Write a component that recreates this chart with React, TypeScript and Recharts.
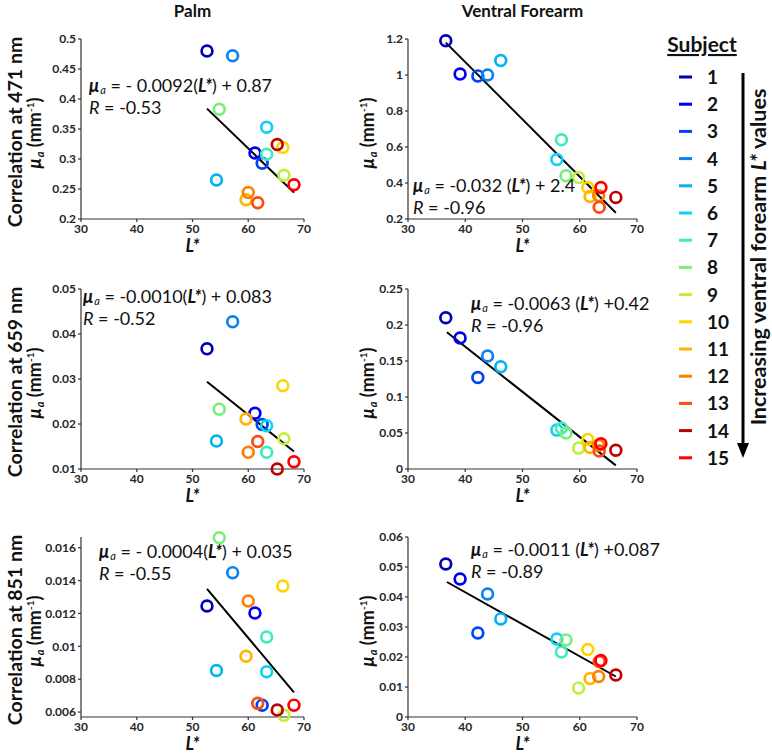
import React from "react";
import { ScatterChart, Scatter, XAxis, YAxis, ReferenceLine } from "recharts";

const FONT = "Lato, 'Open Sans', sans-serif";

// subject 1..15, ordered by increasing ventral forearm L*
const subjects = [1, 2, 3, 4, 5, 6, 7, 8, 9, 10, 11, 12, 13, 14, 15];
const subjectColors = [
  "#0000B4", "#0000F0", "#0044FA", "#0A82F0", "#00B4F0",
  "#10D0F8", "#40EBBE", "#78F078", "#BEF03C", "#FFD400",
  "#FFB400", "#FF8000", "#FF4A10", "#C00000", "#FF0000",
];

const palmL = [52.6, 61.2, 62.5, 57.2, 54.3, 63.3, 63.3, 54.8, 66.4, 66.2, 59.6, 60.0, 61.7, 65.2, 68.2];
const ventralL = [36.6, 39.1, 42.2, 43.9, 46.2, 56.0, 56.8, 57.6, 59.8, 61.4, 61.8, 63.3, 63.4, 66.3, 63.7];

const palm471 = [0.48, 0.31, 0.293, 0.472, 0.265, 0.353, 0.308, 0.383, 0.273, 0.319, 0.232, 0.244, 0.227, 0.324, 0.257];
const ventral471 = [1.19, 1.005, 0.995, 1.0, 1.08, 0.53, 0.64, 0.44, 0.43, 0.375, 0.325, 0.33, 0.265, 0.32, 0.375];
const palm659 = [0.0367, 0.0224, 0.0199, 0.0427, 0.0162, 0.0196, 0.0137, 0.0233, 0.0167, 0.0285, 0.0211, 0.0137, 0.0161, 0.01, 0.0116];
const ventral659 = [0.21, 0.182, 0.127, 0.157, 0.142, 0.054, 0.057, 0.05, 0.029, 0.041, 0.03, 0.033, 0.025, 0.026, 0.035];
const palm851 = [0.01245, 0.01203, 0.00642, 0.01448, 0.00853, 0.00845, 0.01057, 0.0166, 0.0058, 0.01367, 0.0094, 0.01276, 0.00653, 0.00612, 0.00642];
const ventral851 = [0.051, 0.046, 0.028, 0.041, 0.0327, 0.026, 0.0217, 0.0257, 0.0097, 0.0225, 0.0128, 0.0135, 0.0185, 0.014, 0.0188];

// regression line end points
const palm471Fit = [{ x: 52.6, y: 0.384 }, { x: 68.2, y: 0.244 }];
const ventral471Fit = [{ x: 36.6, y: 1.18 }, { x: 66.3, y: 0.235 }];
const palm659Fit = [{ x: 52.6, y: 0.0294 }, { x: 68.2, y: 0.0139 }];
const ventral659Fit = [{ x: 36.8, y: 0.19 }, { x: 66.3, y: 0.005 }];
const palm851Fit = [{ x: 52.6, y: 0.0135 }, { x: 68.2, y: 0.0072 }];
const ventral851Fit = [{ x: 36.8, y: 0.045 }, { x: 66.3, y: 0.0135 }];

const xTicks = [30, 40, 50, 60, 70];
const palm471Ticks = [0.2, 0.25, 0.3, 0.35, 0.4, 0.45, 0.5];
const ventral471Ticks = [0.2, 0.4, 0.6, 0.8, 1, 1.2];
const palm659Ticks = [0.01, 0.02, 0.03, 0.04, 0.05];
const ventral659Ticks = [0, 0.05, 0.1, 0.15, 0.2, 0.25];
const palm851Ticks = [0.006, 0.008, 0.01, 0.012, 0.014, 0.016];
const ventral851Ticks = [0, 0.01, 0.02, 0.03, 0.04, 0.05, 0.06];

const toPoints = (xs: number[], ys: number[]) =>
  xs.map((x, i) => ({ x, y: ys[i], s: subjects[i] }));

const Ring = (props: any) => (
  <circle
    cx={props.cx}
    cy={props.cy}
    r={5.4}
    fill="none"
    stroke={subjectColors[props.payload.s - 1]}
    strokeWidth={2.7}
  />
);

const tickStyle = { fontSize: 12, fontWeight: 700, fill: "#262626", fontFamily: FONT };
const axisStyle = { stroke: "#333", strokeWidth: 1.2 };

interface PanelProps {
  left: number;
  top: number;
  plotW: number;
  data: { x: number; y: number; s: number }[];
  fit: { x: number; y: number }[];
  yDomain: [number, number];
  yTicks: number[];
}

function Panel({ left, top, plotW, data, fit, yDomain, yTicks }: PanelProps) {
  return (
    <div style={{ position: "absolute", left: left - 60, top: top - 10 }}>
      <ScatterChart width={plotW + 70} height={220} margin={{ top: 10, right: 10, bottom: 0, left: 0 }}>
        <XAxis
          type="number"
          dataKey="x"
          domain={[30, 70]}
          ticks={xTicks}
          interval={0}
          height={30}
          tick={tickStyle}
          tickSize={3}
          axisLine={axisStyle}
          tickLine={axisStyle}
        />
        <YAxis
          type="number"
          dataKey="y"
          domain={yDomain}
          ticks={yTicks}
          interval={0}
          width={60}
          tick={tickStyle}
          tickSize={3}
          axisLine={axisStyle}
          tickLine={axisStyle}
        />
        <Scatter data={data} shape={Ring} isAnimationActive={false} />
        <ReferenceLine segment={fit} stroke="#000" strokeWidth={2} ifOverflow="visible" />
      </ScatterChart>
    </div>
  );
}

const PALM_X = 81;
const PALM_W = 223;
const VENT_X = 408;
const VENT_W = 229;
const ROWS = [39, 289, 537];

function Equation({ x, y, slope, intercept, r }: { x: number; y: number; slope: string; intercept: string; r: string }) {
  return (
    <g fontSize={18} fill="#111">
      <text x={x} y={y}>
        <tspan fontWeight={700} fontStyle="italic">μ</tspan>
        <tspan fontStyle="italic" fontSize={11} dx={1} dy={2}>a</tspan>
        <tspan dy={-2}>{` = ${slope}(`}</tspan>
        <tspan fontWeight={700} fontStyle="italic">L*</tspan>
        <tspan>{`) ${intercept}`}</tspan>
      </text>
      <text x={x} y={y + 22}>
        <tspan fontStyle="italic">R</tspan>
        <tspan>{` = ${r}`}</tspan>
      </text>
    </g>
  );
}

function MuLabel({ x, y }: { x: number; y: number }) {
  return (
    <text
      transform={`translate(${x},${y}) rotate(-90)`}
      textAnchor="middle"
      fontWeight={700}
      fontSize={18}
      fill="#111"
    >
      <tspan fontStyle="italic">μ</tspan>
      <tspan fontStyle="italic" fontSize={11} dx={1} dy={3}>a</tspan>
      <tspan dy={-3}> (mm</tspan>
      <tspan fontSize={10} dy={-7}>-1</tspan>
      <tspan dy={7}>)</tspan>
    </text>
  );
}

export default function App() {
  const wavelengths = ["471", "659", "851"];
  return (
    <div
      style={{
        position: "absolute",
        left: 0,
        top: 0,
        width: 772,
        height: 755,
        background: "#fff",
        fontFamily: FONT,
      }}
    >
      <Panel left={PALM_X} top={ROWS[0]} plotW={PALM_W} data={toPoints(palmL, palm471)} fit={palm471Fit} yDomain={[0.2, 0.5]} yTicks={palm471Ticks} />
      <Panel left={VENT_X} top={ROWS[0]} plotW={VENT_W} data={toPoints(ventralL, ventral471)} fit={ventral471Fit} yDomain={[0.2, 1.2]} yTicks={ventral471Ticks} />
      <Panel left={PALM_X} top={ROWS[1]} plotW={PALM_W} data={toPoints(palmL, palm659)} fit={palm659Fit} yDomain={[0.01, 0.05]} yTicks={palm659Ticks} />
      <Panel left={VENT_X} top={ROWS[1]} plotW={VENT_W} data={toPoints(ventralL, ventral659)} fit={ventral659Fit} yDomain={[0, 0.25]} yTicks={ventral659Ticks} />
      <Panel left={PALM_X} top={ROWS[2]} plotW={PALM_W} data={toPoints(palmL, palm851)} fit={palm851Fit} yDomain={[0.0057, 0.01665]} yTicks={palm851Ticks} />
      <Panel left={VENT_X} top={ROWS[2]} plotW={VENT_W} data={toPoints(ventralL, ventral851)} fit={ventral851Fit} yDomain={[0, 0.06]} yTicks={ventral851Ticks} />

      <svg
        width={772}
        height={755}
        style={{ position: "absolute", left: 0, top: 0, pointerEvents: "none" }}
        fontFamily={FONT}
      >
        <text x={PALM_X + PALM_W / 2} y={17} textAnchor="middle" fontWeight={700} fontSize={17} fill="#111">Palm</text>
        <text x={VENT_X + VENT_W / 2} y={17} textAnchor="middle" fontWeight={700} fontSize={17} fill="#111">Ventral Forearm</text>

        {ROWS.map((top, i) => (
          <g key={i}>
            <text
              transform={`translate(22,${top + 93}) rotate(-90)`}
              textAnchor="middle"
              fontWeight={700}
              fontSize={19.5}
              fill="#111"
            >
              {`Correlation at ${wavelengths[i]} nm`}
            </text>
            <MuLabel x={41} y={top + 94} />
            <MuLabel x={374} y={top + 94} />
            <text x={PALM_X + PALM_W / 2} y={top + 213} textAnchor="middle" fontWeight={700} fontStyle="italic" fontSize={18} fill="#111">L*</text>
            <text x={VENT_X + VENT_W / 2} y={top + 213} textAnchor="middle" fontWeight={700} fontStyle="italic" fontSize={18} fill="#111">L*</text>
          </g>
        ))}

        <Equation x={89} y={92} slope="- 0.0092" intercept="+ 0.87" r="-0.53" />
        <Equation x={413} y={192} slope="-0.032 " intercept="+ 2.4" r="-0.96" />
        <Equation x={83} y={303} slope="-0.0010" intercept="+ 0.083" r="-0.52" />
        <Equation x={471} y={310} slope="-0.0063 " intercept="+0.42" r="-0.96" />
        <Equation x={99} y={558} slope="- 0.0004" intercept="+ 0.035" r="-0.55" />
        <Equation x={471} y={556} slope="-0.0011 " intercept="+0.087" r="-0.89" />

        {/* legend */}
        <text x={702} y={52} textAnchor="middle" fontWeight={700} fontSize={21} fill="#111" textDecoration="underline">Subject</text>
        {subjects.map((s, i) => (
          <g key={s}>
            <rect x={679} y={77 + i * 27.2 - 1.5} width={13} height={3} fill={subjectColors[i]} />
            <text x={707} y={77 + i * 27.2 + 7} fontWeight={700} fontSize={19} fill="#111">{s}</text>
          </g>
        ))}
        <line x1={743} y1={73} x2={743} y2={446} stroke="#000" strokeWidth={3} />
        <polygon points="737,443 749,443 743,458" fill="#000" />
        <text
          transform="translate(758,257) rotate(-90)"
          textAnchor="middle"
          dominantBaseline="central"
          fontWeight={700}
          fontSize={21.5}
          fill="#111"
        >
          Increasing ventral forearm <tspan fontStyle="italic">L*</tspan> values
        </text>
      </svg>
    </div>
  );
}
